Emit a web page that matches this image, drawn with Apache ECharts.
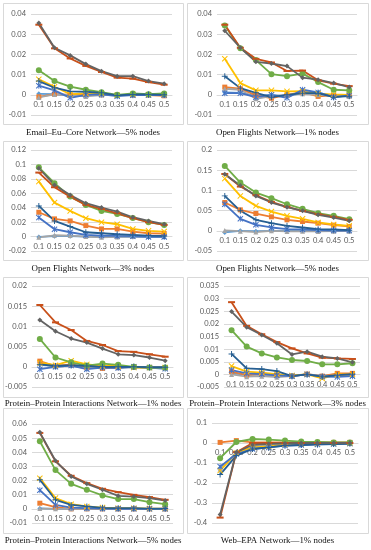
<!DOCTYPE html>
<html><head><meta charset="utf-8">
<script src="https://cdn.jsdelivr.net/npm/echarts@6/dist/echarts.min.js"></script>
<style>html,body{margin:0;padding:0;background:#fff}#c{width:371px;height:550px}</style>
</head><body><div id="c"></div>
<script>
const categories = ['0.1','0.15','0.2','0.25','0.3','0.35','0.4','0.45','0.5'];
const seriesColors = ['#5B9BD5','#ED7D31','#A5A5A5','#FFC000','#4472C4','#70AD47','#255E91','#C8501A','#636363'];
const panelTitles = [
  'Email–Eu–Core Network—5% nodes','Open Flights Network—1% nodes',
  'Open Flights Network—3% nodes','Open Flights Network—5% nodes',
  'Protein–Protein Interactions Network—1% nodes','Protein–Protein Interactions Network—3% nodes',
  'Protein–Protein Interactions Network—5% nodes','Web–EPA Network—1% nodes'];
const yMins = [-0.01,-0.01,-0.02,-0.05,-0.005,-0.005,-0.01,-0.4];
const yMaxs = [0.04,0.04,0.12,0.2,0.02,0.035,0.06,0.1];
const yIntervals = [0.01,0.01,0.02,0.05,0.005,0.005,0.01,0.1];

// rows: A(lt blue diamond), B(orange square), C(gray triangle), D(gold x), E(blue star), F(green circle), G(dark blue plus), H(dark orange dash), I(dark gray)
const email5 = [
 [0.0005,0.0003,-0.0005,0,0.0002,-0.0003,0,0,0],
 [-0.001,0.0003,0,0,0,-0.0001,-0.0001,-0.0001,-0.0005],
 [-0.0013,0.0002,-0.0001,-0.0008,-0.0001,-0.0001,-0.0001,-0.0001,-0.0002],
 [0.0077,0.004,0.0003,0.0007,0.0005,-0.0003,0.0002,0,0],
 [0.0045,0.0022,-0.0015,0,0.0002,-0.0007,-0.0002,-0.0001,-0.0001],
 [0.0122,0.0068,0.004,0.0025,0.0013,0,0.0007,0.0003,0.0007],
 [0.0068,0.0035,0.0017,0.0015,0.001,-0.0003,0.0002,0.0002,0],
 [0.0347,0.023,0.018,0.0143,0.0113,0.0085,0.008,0.0063,0.005],
 [0.0355,0.0233,0.0195,0.0152,0.0117,0.0092,0.0092,0.0068,0.0055]];
const flights1 = [
 [0.0012,0.001,-0.0005,0,-0.0008,0.001,0.001,-0.0005,-0.0003],
 [0.0038,0.003,-0.0003,-0.0017,0,0.0013,-0.0008,-0.0003,-0.0005],
 [0.003,0.0025,-0.002,-0.0007,0,0.0005,0,-0.0007,-0.0007],
 [0.0178,0.0058,0.0022,0.0022,0.0017,0.0018,0.0005,0.0002,0],
 [0.0008,0.0008,-0.0012,0,-0.0015,0.0025,0.0012,-0.0012,-0.0003],
 [0.0343,0.023,0.0172,0.0102,0.0092,0.0105,0.0063,0.0025,0.0022],
 [0.0092,0.0033,0.001,-0.0012,0,0.0008,0.0008,-0.0012,-0.0007],
 [0.0347,0.0233,0.0178,0.016,0.0118,0.012,0.0072,0.0055,0.0043],
 [0.0317,0.0233,0.0163,0.0155,0.0142,0.0085,0.0075,0.0058,0.0038]];
const flights3 = [
 [-0.0005,0.0005,0.0005,0,-0.0005,-0.0005,-0.0003,-0.0005,-0.0003],
 [0.0337,0.0245,0.0217,0.0152,0.0106,0.0106,0.0069,0.0046,0.0042],
 [-0.001,0.0018,0.0014,0,-0.001,-0.0005,0,0,0],
 [0.0762,0.0471,0.0356,0.0254,0.0199,0.0171,0.0106,0.0079,0.0069],
 [0.0263,0.0102,0.006,0.0023,0.0014,0.0009,0.0005,-0.0005,-0.0005],
 [0.096,0.074,0.0554,0.0439,0.0356,0.0314,0.0259,0.0199,0.0162],
 [0.0425,0.0217,0.0139,0.006,0.0046,0.0032,0.0023,0.0014,0.0009],
 [0.0887,0.0684,0.0554,0.0439,0.0383,0.0323,0.0254,0.0199,0.0162],
 [0.0947,0.0716,0.0577,0.0462,0.0402,0.0346,0.0268,0.0217,0.0171]];
const flights5 = [
 [-0.004,0,-0.001,0,0,0,0,0,0],
 [0.07,0.0519,0.0428,0.0346,0.0272,0.023,0.0189,0.014,0.0107],
 [0.001,-0.001,-0.003,0,-0.0016,-0.001,-0.0016,-0.001,-0.001],
 [0.1292,0.0864,0.0617,0.0477,0.037,0.0296,0.0206,0.0156,0.0123],
 [0.0658,0.0296,0.0148,0.0082,0.0041,0.0033,0.0016,0.0008,0.0008],
 [0.1605,0.1193,0.0947,0.0807,0.0658,0.0543,0.0436,0.037,0.0288],
 [0.0864,0.0494,0.0272,0.0189,0.0123,0.0082,0.0041,0.0033,0.0016],
 [0.1407,0.1095,0.088,0.0716,0.0593,0.0494,0.041,0.0346,0.0272],
 [0.14,0.112,0.0864,0.07,0.0584,0.0494,0.0395,0.0329,0.0247]];
const protein1 = [
 [0.0005,0.0002,0.0003,-0.0002,0,0,0,-0.0001,-0.0001],
 [0.0014,0.0002,0.0006,-0.0002,-0.0004,-0.0002,0,-0.0002,-0.0002],
 [0.0008,0,0.0003,-0.0004,0,0,-0.0002,-0.0002,-0.0002],
 [0.001,0.0004,0.0015,0.0006,0.0002,0.0002,-0.0002,-0.0002,-0.0002],
 [-0.0006,0,0.0003,-0.0006,-0.0002,-0.0003,0,-0.0002,-0.0005],
 [0.0069,0.0023,0.0011,0.0003,0.0008,0.0005,0,-0.0002,-0.0002],
 [0.0006,0.0002,0.0004,0.0002,0,0,0,-0.0001,-0.0001],
 [0.0153,0.011,0.0091,0.0064,0.0054,0.0039,0.0037,0.0031,0.0025],
 [0.0116,0.0088,0.007,0.006,0.0045,0.0031,0.0029,0.0023,0.0015]];
const protein3 = [
 [0.0005,-0.0002,0,-0.0003,-0.0005,0,-0.0005,-0.0003,-0.0002],
 [0.0011,-0.0003,0.0001,-0.0003,-0.0007,0.0001,-0.0007,0.0004,0.0004],
 [0,-0.0009,-0.0007,-0.0011,-0.0007,0,-0.0007,-0.0004,-0.0004],
 [0.0033,0.0011,0.0007,0.0001,-0.0004,0,-0.0016,0,0],
 [0.0017,0.0004,0.0001,-0.0004,-0.0007,0,-0.0009,-0.001,-0.0007],
 [0.0175,0.011,0.0083,0.0067,0.0057,0.0053,0.004,0.004,0.0044],
 [0.0081,0.0024,0.0021,0.0013,-0.0007,0,-0.0009,-0.0003,0.0001],
 [0.0286,0.0192,0.0159,0.0128,0.0103,0.0083,0.0066,0.0063,0.0061],
 [0.0249,0.0187,0.0156,0.0123,0.0079,0.009,0.007,0.0063,0.0048]];
const protein5 = [
 [0.0003,0,0,0,0,0,0,0,0],
 [0.004,0.0012,0,0,0,0,0,0,0],
 [0.0002,0,0,0,0,0,0,0,0],
 [0.0217,0.0076,0.0033,0.0017,0.0009,0.0005,0.0005,0.0002,0.0002],
 [0.0132,0.0028,0.0009,0.0005,0.0002,0,0,0,0],
 [0.0478,0.0274,0.0177,0.0135,0.0095,0.0069,0.0069,0.0047,0.0033],
 [0.0206,0.0064,0.0028,0.0017,0.0007,0.0005,0.0005,0.0002,0.0002],
 [0.0537,0.0336,0.0234,0.0182,0.0142,0.0118,0.0099,0.0083,0.0064],
 [0.0541,0.034,0.0229,0.0177,0.0135,0.0092,0.0087,0.0076,0.0059]];
const webEpa1 = [
 [-0.125,-0.052,-0.025,-0.018,-0.01,-0.008,-0.005,-0.003,-0.002],
 [0.003,0.012,0.003,0.003,0.003,0.003,0.003,0.003,0.003],
 [-0.13,-0.05,-0.02,-0.015,-0.008,-0.006,-0.004,-0.003,-0.002],
 [-0.138,-0.05,-0.022,-0.017,-0.008,-0.007,-0.005,-0.003,-0.002],
 [-0.118,-0.055,-0.03,-0.022,-0.013,-0.01,-0.007,-0.005,-0.003],
 [-0.076,0.005,0.02,0.017,0.012,0.007,0.005,0.003,0.003],
 [-0.158,-0.063,-0.03,-0.022,-0.013,-0.01,-0.007,-0.005,-0.003],
 [-0.373,-0.046,0,0,0,0,0,0,0],
 [-0.358,-0.046,-0.01,-0.005,-0.002,0,0,0,0]];
const panelData = [email5, flights1, flights3, flights5, protein1, protein3, protein5, webEpa1];

// layout
const grids = [
 {left:31,top:14,width:141,height:101},
 {left:217,top:14,width:140,height:101},
 {left:31,top:150,width:141,height:101},
 {left:217,top:150,width:140,height:101},
 {left:32,top:286,width:141,height:101},
 {left:224,top:286,width:136,height:101},
 {left:32,top:424,width:141,height:99},
 {left:212,top:423,width:146,height:100}];
const boxes = [
 {x:3,y:3,w:180,h:121},{x:187,y:3,w:181,h:121},
 {x:3,y:141,w:180,h:119},{x:187,y:141,w:181,h:119},
 {x:3,y:277,w:180,h:120},{x:187,y:277,w:181,h:120},
 {x:3,y:408,w:180,h:125},{x:187,y:408,w:181,h:125}];
const titleY = [133,133,269,269,404,404,541,541];

const SYM_X = 'path://M0,1.2L1.2,0L5,3.8L8.8,0L10,1.2L6.2,5L10,8.8L8.8,10L5,6.2L1.2,10L0,8.8L3.8,5Z';
const SYM_STAR = 'path://M0,1.2L1.2,0L5,3.8L8.8,0L10,1.2L6.2,5L10,8.8L8.8,10L5,6.2L1.2,10L0,8.8L3.8,5ZM4.3,0H5.7V10H4.3Z';
const SYM_PLUS = 'path://M4.2,0H5.8V4.2H10V5.8H5.8V10H4.2V5.8H0V4.2H4.2Z';
const SYM_DASH = 'path://M0,0H10V3H0Z';
const symbols = ['diamond','rect','triangle',SYM_X,SYM_STAR,'circle',SYM_PLUS,SYM_DASH,'diamond'];
const symSizes = [5,5,5,6,6,6,6,[7,2],5];

const axisFont = 'Lato, "Liberation Sans", sans-serif';
const option = {
  animation:false,
  backgroundColor:'#fff',
  graphic: boxes.map(b=>({type:'rect',shape:{x:b.x+0.5,y:b.y+0.5,width:b.w,height:b.h},
    style:{fill:'none',stroke:'#D9D9D9',lineWidth:1},silent:true,z:-1}))
    .concat(panelTitles.map((t,i)=>({type:'text',x:boxes[i].x+boxes[i].w/2,y:titleY[i],silent:true,
      style:{text:t,textAlign:'center',textVerticalAlign:'middle',fill:'#111',
        font:'8.9px "Liberation Serif", serif'}}))),
  grid: grids,
  xAxis: grids.map((g,i)=>({type:'category',gridIndex:i,data:categories,boundaryGap:true,position:'bottom',
    offset:-g.height*(0-yMins[i])/(yMaxs[i]-yMins[i]),
    axisLine:{onZero:false,lineStyle:{color:'#D9D9D9',width:1}},axisTick:{show:false},
    axisLabel:{interval:0,fontSize:7.5,color:'#595959',fontFamily:axisFont,margin:6}})),
  yAxis: grids.map((g,i)=>({type:'value',gridIndex:i,min:yMins[i],max:yMaxs[i],interval:yIntervals[i],
    axisLine:{show:false},axisTick:{show:false},
    splitLine:{lineStyle:{color:'#D9D9D9',width:1}},
    axisLabel:{fontSize:7.5,color:'#595959',fontFamily:axisFont,margin:5,
      formatter:v=>String(+v.toFixed(4))}})),
  series: []
};
panelData.forEach((rows,p)=>{
  rows.forEach((vals,s)=>{
    option.series.push({type:'line',xAxisIndex:p,yAxisIndex:p,data:vals,
      symbol:symbols[s],symbolSize:symSizes[s],showSymbol:true,
      lineStyle:{color:seriesColors[s],width:1.8},
      itemStyle:{color:seriesColors[s],borderWidth:0}});
  });
});
const chart = echarts.init(document.getElementById('c'),null,{renderer:'canvas'});
chart.setOption(option);
</script></body></html>
